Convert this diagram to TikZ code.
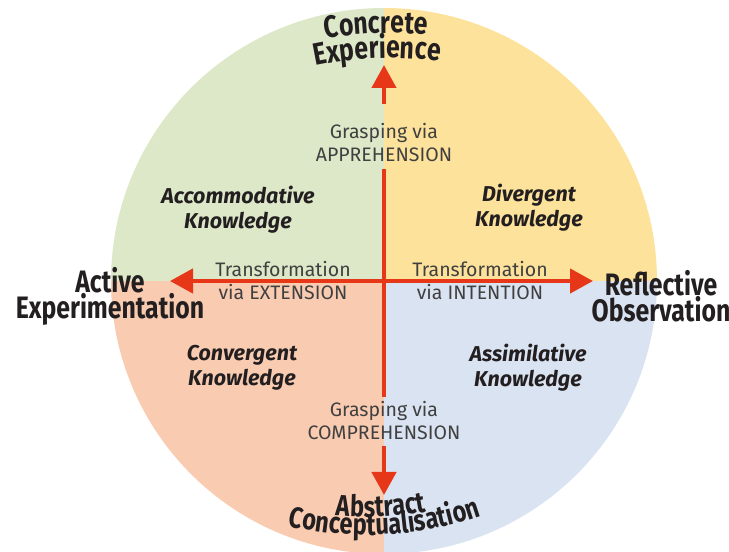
\documentclass[tikz,border=0pt]{standalone}
\usepackage{fontspec}
\setmainfont{Fira Sans}
\newfontfamily\headfont[FakeStretch=0.8]{Fira Sans}
\usetikzlibrary{arrows.meta,decorations.text}

\definecolor{acgreen}{HTML}{DCE8C8}
\definecolor{dvyellow}{HTML}{FDE29B}
\definecolor{cvpeach}{HTML}{F9CCB2}
\definecolor{asblue}{HTML}{DAE3F1}
\definecolor{axisred}{HTML}{E63719}
\definecolor{ink}{HTML}{231F20}
\definecolor{inkgrey}{HTML}{404040}

\newcommand\modefont{\headfont\bfseries\fontsize{31}{26}\selectfont}
\newcommand\lowmodefont{\headfont\bfseries\fontsize{29.5}{26}\selectfont}

\begin{document}
\begin{tikzpicture}[x=1pt,y=1pt,
    axis/.style={line width=4.5pt, draw=axisred},
    axisarrow/.style={axis, -{Triangle[length=23pt,width=24pt]}},
    mode/.style={font=\modefont, text=ink, align=center, inner sep=0pt},
    knowledge/.style={font=\bfseries\itshape\fontsize{21.5}{25}\selectfont, text=ink, align=center, inner sep=0pt},
    grasp/.style={font=\fontsize{19.5}{23}\selectfont, text=inkgrey, align=center, inner sep=0pt},
    curved/.style={decorate, decoration={text along path, text align=center, text color=ink, text={#1}}}
  ]
    \useasboundingbox (0,0) rectangle (729,552);

    % Centre of the cycle
    \coordinate (o) at (384,271);

    % Quadrants
    \begin{scope}
        \clip (o) circle [radius=273];
        \fill[acgreen] (o) rectangle ++(-280,280);
        \fill[dvyellow] (o) rectangle ++(280,280);
        \fill[cvpeach] (o) rectangle ++(-280,-280);
        \fill[asblue] (o) rectangle ++(280,-280);
    \end{scope}

    % Knowledge types
    \node[knowledge] (acc) at (238,342.5) {Accommodative\\Knowledge};
    \node[knowledge] (div) at (529,344.5) {Divergent\\Knowledge};
    \node[knowledge] (con) at (242,184.5) {Convergent\\Knowledge};
    \node[knowledge] (ass) at (528,184.5) {Assimilative\\Knowledge};

    % Axis labels
    \node[grasp] (app) at (384,409.5) {Grasping via\\APPREHENSION};
    \node[grasp] (com) at (384,131.5) {Grasping via\\COMPREHENSION};
    \node[grasp] (ext) at (283,271.5) {Transformation\\via EXTENSION};
    \node[grasp] (int) at (480,271.5) {Transformation\\via INTENTION};

    % Side modes
    \node[mode] (ae) at (110,256) {Active\\Experimentation};
    \node[mode] (ro) at (661,256) {Reflective\\Observation};

    % Arrow tips
    \coordinate (ceTip) at (384,487);
    \coordinate (acTip) at (384,57);
    \coordinate (aeTip) at (170,271);
    \coordinate (roTip) at (593,271);

    % Axes
    \draw[axis] (o) -- ([yshift=-7]app.south);
    \draw[axisarrow] ([yshift=19]app.north) -- (ceTip);
    \draw[axis] (o) -- ([yshift=4]com.north);
    \draw[axisarrow] ([yshift=-6]com.south) -- (acTip);
    \draw[axisarrow] (o) -- (aeTip);
    \draw[axisarrow] (o) -- (roTip);

    % Curved modes
    \path[curved={|\modefont|Concrete}] (390,134) ++(104:385) arc [start angle=104, end angle=80, radius=385];
    \path[curved={|\modefont|Experience}] (390,134) ++(107:360) arc [start angle=107, end angle=77, radius=360];
    \path[curved={|\lowmodefont|Abstract}] (367,367) ++(260:332) arc [start angle=260, end angle=285, radius=332];
    \path[curved={|\lowmodefont|Conceptualisation}] (367,367) ++(250:350) arc [start angle=250, end angle=296, radius=350];
\end{tikzpicture}
\end{document}
